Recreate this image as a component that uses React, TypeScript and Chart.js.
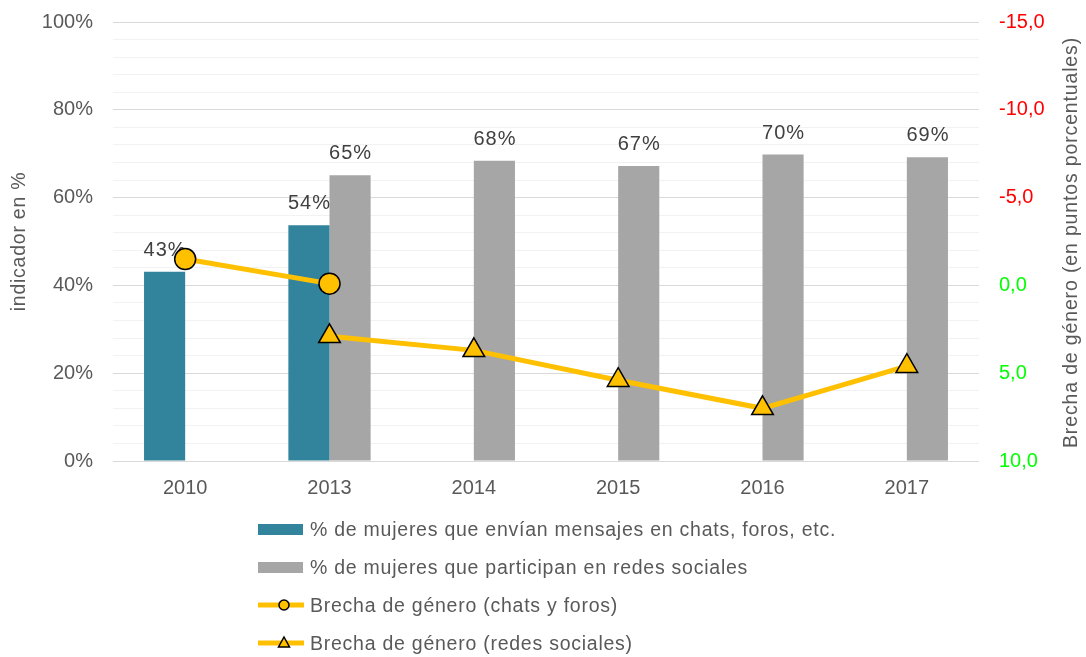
import React, { useEffect, useRef } from 'react';
import { Chart, registerables } from 'chart.js';

Chart.register(...registerables);

const categories = ['2010', '2013', '2014', '2015', '2016', '2017'];
const chatsPct = [43.1, 53.7, null, null, null, null];
const redesPct = [null, 65.1, 68.4, 67.2, 69.8, 69.2];
const brechaChats = [-1.5, -0.1, null, null, null, null];
const brechaRedes = [null, 2.9, 3.7, 5.4, 7.0, 4.6];

const legendLabels = [
  '% de mujeres que envían mensajes en chats, foros, etc.',
  '% de mujeres que participan en redes sociales',
  'Brecha de género (chats y foros)',
  'Brecha de género (redes sociales)',
];
const leftTitle = 'indicador en %';
const rightTitle = 'Brecha de género (en puntos porcentuales)';

const FONT = "'Liberation Sans', Arial, sans-serif";
const TEAL = '#31849B';
const GREY = '#A6A6A6';
const YELLOW = '#FFC000';
const TEXT = '#595959';

const barLabelsPlugin = {
  id: 'barLabels',
  afterDatasetDraw(chart: any, args: any) {
    const ds = chart.data.datasets[args.index];
    if (ds.type !== 'bar') return;
    const ctx = chart.ctx;
    ctx.save();
    ctx.font = `20px ${FONT}`;
    try { (ctx as any).letterSpacing = '1px'; } catch (e) {}
    ctx.fillStyle = '#404040';
    ctx.textAlign = 'center';
    ctx.textBaseline = 'alphabetic';
    args.meta.data.forEach((el: any, i: number) => {
      const v = ds.data[i];
      if (v == null) return;
      ctx.fillText(Math.round(v) + '%', el.x + 0.5, el.y - 16);
    });
    ctx.restore();
  },
};

const axisTitlesPlugin = {
  id: 'axisTitles',
  afterDraw(chart: any) {
    const ctx = chart.ctx;
    const { top, bottom } = chart.chartArea;
    const cy = (top + bottom) / 2;
    const drawRot = (text: string, x: number, y: number, spacing: string) => {
      ctx.save();
      ctx.translate(x, y);
      ctx.rotate(-Math.PI / 2);
      ctx.font = `19.5px ${FONT}`;
      try { (ctx as any).letterSpacing = spacing; } catch (e) {}
      ctx.fillStyle = TEXT;
      ctx.textAlign = 'center';
      ctx.textBaseline = 'middle';
      ctx.fillText(text, 0, 0);
      ctx.restore();
    };
    drawRot(leftTitle, 20, cy, '0.75px');
    drawRot(rightTitle, 1072, cy + 1, '0.85px');
  },
};

function LegendIcon({ kind }: { kind: number }) {
  if (kind === 0 || kind === 1) {
    return (
      <svg width="46" height="24" style={{ display: 'block' }}>
        <rect x="0" y="7" width="45" height="11" fill={kind === 0 ? TEAL : GREY} />
      </svg>
    );
  }
  return (
    <svg width="46" height="24" style={{ display: 'block' }}>
      <line x1="0" y1="12" x2="46" y2="12" stroke={YELLOW} strokeWidth="5" strokeLinecap="round" />
      {kind === 2 ? (
        <circle cx="26" cy="12" r="5" fill={YELLOW} stroke="#000" strokeWidth="1.5" />
      ) : (
        <polygon points="26,6 31.5,16 20.5,16" fill={YELLOW} stroke="#000" strokeWidth="1.5" />
      )}
    </svg>
  );
}

export default function App() {
  const canvasRef = useRef<HTMLCanvasElement | null>(null);

  useEffect(() => {
    if (!canvasRef.current) return;
    const chart = new Chart(canvasRef.current, {
      data: {
        labels: categories,
        datasets: [
          {
            type: 'bar',
            label: legendLabels[0],
            data: chatsPct,
            backgroundColor: TEAL,
            yAxisID: 'y',
            order: 2,
            categoryPercentage: 0.57,
            barPercentage: 1,
          },
          {
            type: 'bar',
            label: legendLabels[1],
            data: redesPct,
            backgroundColor: GREY,
            yAxisID: 'y',
            order: 2,
            categoryPercentage: 0.57,
            barPercentage: 1,
          },
          {
            type: 'line',
            label: legendLabels[2],
            data: brechaChats,
            borderColor: YELLOW,
            borderWidth: 5,
            backgroundColor: YELLOW,
            pointBackgroundColor: YELLOW,
            pointBorderColor: '#000',
            pointBorderWidth: 1.5,
            pointRadius: 10.5,
            pointStyle: 'circle',
            yAxisID: 'y2',
            order: 0,
          },
          {
            type: 'line',
            label: legendLabels[3],
            data: brechaRedes,
            borderColor: YELLOW,
            borderWidth: 5,
            backgroundColor: YELLOW,
            pointBackgroundColor: YELLOW,
            pointBorderColor: '#000',
            pointBorderWidth: 1.5,
            pointRadius: 12.5,
            pointStyle: 'triangle',
            yAxisID: 'y2',
            order: 0,
          },
        ] as any,
      },
      options: {
        responsive: false,
        animation: false,
        layout: { padding: { top: 22, left: 0, right: 0, bottom: 0 } },
        plugins: {
          legend: { display: false },
          tooltip: { enabled: false },
        },
        scales: {
          x: {
            grid: { display: false, drawTicks: false },
            border: { display: false },
            ticks: { color: TEXT, font: { family: FONT, size: 20 }, padding: 15 },
            afterFit: (s: any) => {
              s.height = 196;
            },
          },
          y: {
            position: 'left',
            min: 0,
            max: 100,
            grid: {
              drawTicks: false,
              lineWidth: 1,
              color: (c: any) => (c.tick && c.tick.value % 20 === 0 ? '#D9D9D9' : '#F2F2F2'),
            },
            border: { display: false },
            ticks: {
              stepSize: 4,
              autoSkip: false,
              padding: 20,
              color: TEXT,
              font: { family: FONT, size: 20 },
              callback: (v: any) => (v % 20 === 0 ? v + '%' : ''),
            },
            afterFit: (s: any) => {
              s.width = 113;
              s.paddingTop = 12;
              s.paddingBottom = 12;
            },
          },
          y2: {
            position: 'right',
            reverse: true,
            min: -15,
            max: 10,
            grid: { display: false, drawTicks: false },
            border: { display: false },
            ticks: {
              stepSize: 5,
              padding: 20,
              font: { family: FONT, size: 20 },
              color: (c: any) => (c.tick && c.tick.value < 0 ? '#FF0000' : '#00FF00'),
              callback: (v: any) => Number(v).toFixed(1).replace('.', ','),
            },
            afterFit: (s: any) => {
              s.width = 107;
              s.paddingTop = 12;
              s.paddingBottom = 12;
            },
          },
        },
      } as any,
      plugins: [barLabelsPlugin, axisTitlesPlugin],
    });
    return () => chart.destroy();
  }, []);

  const rowCenters = [529, 567, 605, 643];

  return (
    <div style={{ position: 'absolute', left: 0, top: 0, width: 1086, height: 657, background: '#fff' }}>
      <canvas ref={canvasRef} width={1086} height={657} style={{ display: 'block', width: 1086, height: 657 }} />
      {legendLabels.map((lab, i) => (
        <div
          key={i}
          style={{
            position: 'absolute',
            left: 258,
            top: rowCenters[i] - 12,
            height: 24,
            display: 'flex',
            alignItems: 'center',
            fontFamily: FONT,
            fontSize: 19.5,
            letterSpacing: '0.75px',
            color: TEXT,
            whiteSpace: 'nowrap',
          }}
        >
          <LegendIcon kind={i} />
          <span style={{ marginLeft: 6, lineHeight: '24px' }}>{lab}</span>
        </div>
      ))}
    </div>
  );
}
